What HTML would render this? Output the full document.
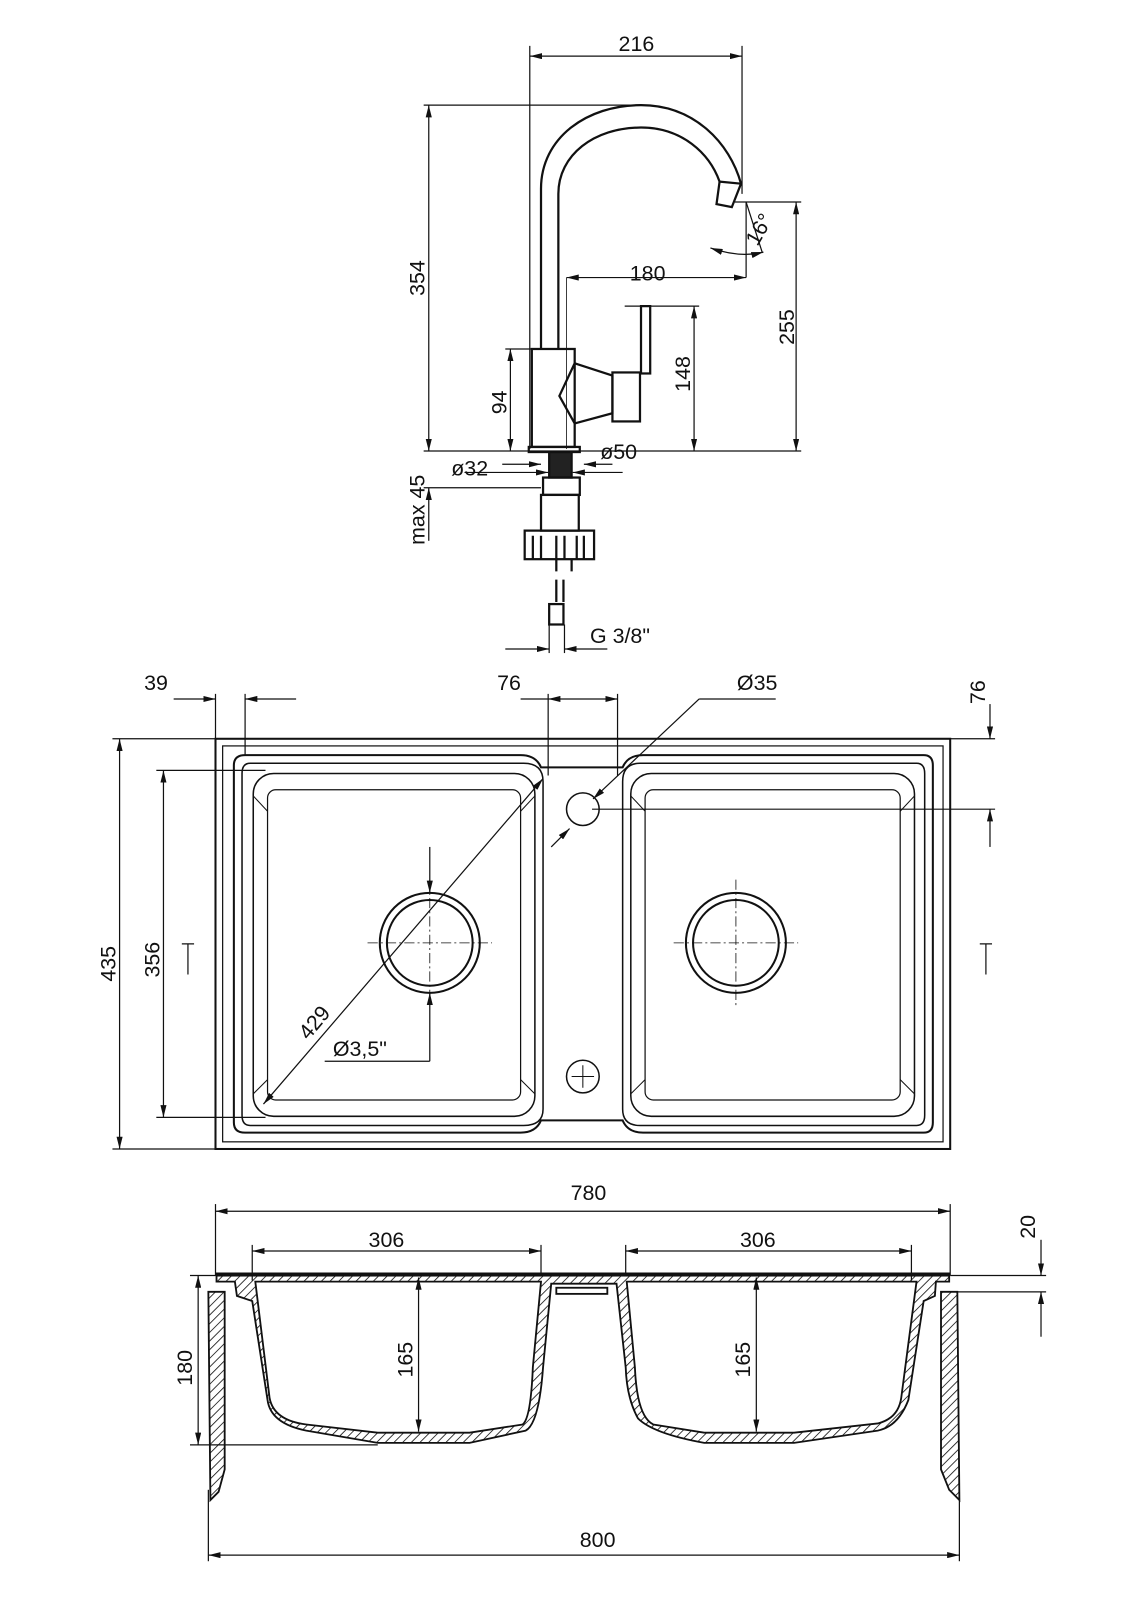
<!DOCTYPE html>
<html><head><meta charset="utf-8"><style>
html,body{margin:0;padding:0;background:#fff}
svg{display:block}
text{font-family:"Liberation Sans",sans-serif;font-size:21px;fill:#111}
</style></head><body>
<svg width="1131" height="1600" viewBox="0 0 1108 1568" xmlns="http://www.w3.org/2000/svg">
<defs>
<marker id="a" viewBox="0 0 12 6" refX="12" refY="3" markerWidth="12" markerHeight="6" orient="auto-start-reverse" markerUnits="userSpaceOnUse"><path d="M0,0L12,3L0,6z" fill="#111"/></marker>
<pattern id="h" width="6" height="6" patternUnits="userSpaceOnUse" patternTransform="rotate(45)"><rect width="6" height="6" fill="#fff"/><line x1="0" y1="0" x2="0" y2="6" stroke="#111" stroke-width="1.6"/></pattern>
</defs>
<!-- faucet body -->
<g stroke="#111" fill="none" stroke-width="2.2">
<path d="M530,342 V185 C530,135 575,103 628,103 C680,103 715,140 726,180"/>
<path d="M547,342 V190 C547,152 582,125 628,125 C668,125 695,150 705,178"/>
<path d="M705,178 L726,180 L717,203 L702,200 Z"/>
<rect x="521" y="342" width="42" height="96"/>
<path d="M563,356 L548,388 L563,415 M563,356 L600,368 V405 L563,415"/>
<rect x="600" y="365" width="27" height="48"/>
<rect x="628" y="300" width="9" height="66"/>
<rect x="518" y="438" width="50" height="5"/>
<rect x="538" y="443" width="22" height="25" fill="#222"/>
<rect x="532" y="468" width="36" height="17"/>
<rect x="530" y="485" width="37" height="35"/>
<rect x="514" y="520" width="68" height="28"/>
<path d="M522,548 V525 M530,548 V525 M545,548 V525 M553,548 V525 M565,548 V525 M572,548 V525"/>
<path d="M545,548 V560 M560,548 V560 M545,568 V590 M552,568 V590"/>
<rect x="538" y="592" width="14" height="20"/>
</g>
<g stroke="#111" fill="none" stroke-width="1.2">
<line x1="519" y1="45" x2="519" y2="440"/>
<line x1="727" y1="45" x2="727" y2="190"/>
<line x1="519" y1="55" x2="727" y2="55" marker-start="url(#a)" marker-end="url(#a)"/>
<line x1="415" y1="103" x2="630" y2="103"/>
<line x1="420" y1="103" x2="420" y2="442" marker-start="url(#a)" marker-end="url(#a)"/>
<line x1="415" y1="442" x2="785" y2="442"/>
<line x1="720" y1="198" x2="785" y2="198"/>
<line x1="780" y1="198" x2="780" y2="442" marker-start="url(#a)" marker-end="url(#a)"/>
<line x1="612" y1="300" x2="685" y2="300"/>
<line x1="680" y1="300" x2="680" y2="442" marker-start="url(#a)" marker-end="url(#a)"/>
<line x1="495" y1="342" x2="521" y2="342"/>
<line x1="500" y1="342" x2="500" y2="442" marker-start="url(#a)" marker-end="url(#a)"/>
<line x1="555" y1="272" x2="555" y2="440" stroke-width="0.8"/>
<line x1="555" y1="272" x2="731" y2="272" marker-start="url(#a)" marker-end="url(#a)"/>
<line x1="731" y1="198" x2="731" y2="272"/>
<line x1="731" y1="198" x2="747" y2="248"/>
<path d="M696,243 Q725,253 748,247" marker-start="url(#a)" marker-end="url(#a)"/>
<line x1="415" y1="478" x2="530" y2="478"/>
<line x1="420" y1="478" x2="420" y2="530" marker-start="url(#a)"/>
<line x1="492" y1="455" x2="530" y2="455" marker-end="url(#a)"/>
<line x1="600" y1="455" x2="572" y2="455" marker-end="url(#a)"/>
<line x1="455" y1="463" x2="537" y2="463" marker-end="url(#a)"/>
<line x1="610" y1="463" x2="561" y2="463" marker-end="url(#a)"/>
<line x1="495" y1="636" x2="538" y2="636" marker-end="url(#a)"/>
<line x1="595" y1="636" x2="553" y2="636" marker-end="url(#a)"/>
<line x1="538" y1="612" x2="538" y2="640"/><line x1="553" y1="612" x2="553" y2="640"/>
</g>
<text x="606" y="50">216</text>
<text x="617" y="275">180</text>
<text transform="translate(416,290) rotate(-90)">354</text>
<text transform="translate(778,338) rotate(-90)">255</text>
<text transform="translate(676,384) rotate(-90)">148</text>
<text transform="translate(496,406) rotate(-90)">94</text>
<text transform="translate(416,534) rotate(-90)">max 45</text>
<text x="442" y="466">ø32</text>
<text x="588" y="450">ø50</text>
<text x="578" y="630">G 3/8"</text>
<text transform="translate(742,242) rotate(-60)">16°</text>

<!-- TOP VIEW -->
<g stroke="#111" fill="none" stroke-width="2">
<rect x="211" y="724" width="720" height="402"/>
<rect x="218" y="731" width="706" height="388" stroke-width="1.2"/>
<path d="M240,740 H510 Q525,740 530,752 H610 Q615,740 630,740 H905 Q914,740 914,750 V1100 Q914,1110 905,1110 H630 Q615,1110 610,1098 H530 Q525,1110 510,1110 H240 Q229,1110 229,1100 V750 Q229,740 240,740 Z"/>
<path d="M245,748 H513 Q532,748 532,766 V1087 Q532,1103 513,1103 H245 Q237,1103 237,1093 V758 Q237,748 245,748 Z" stroke-width="1.5"/>
<rect x="248" y="758" width="276" height="336" rx="20" stroke-width="1.5"/>
<rect x="262" y="774" width="248" height="304" rx="8" stroke-width="1.2"/>
<line x1="248" y1="780" x2="262" y2="795" stroke-width="1"/><line x1="524" y1="780" x2="510" y2="795" stroke-width="1"/>
<line x1="248" y1="1072" x2="262" y2="1058" stroke-width="1"/><line x1="524" y1="1072" x2="510" y2="1058" stroke-width="1"/>
<path d="M627,748 H898 Q906,748 906,758 V1093 Q906,1103 898,1103 H627 Q610,1103 610,1087 V766 Q610,748 627,748 Z" stroke-width="1.5"/>
<rect x="618" y="758" width="278" height="336" rx="20" stroke-width="1.5"/>
<rect x="632" y="774" width="250" height="304" rx="8" stroke-width="1.2"/>
<line x1="618" y1="780" x2="632" y2="795" stroke-width="1"/><line x1="896" y1="780" x2="882" y2="795" stroke-width="1"/>
<line x1="618" y1="1072" x2="632" y2="1058" stroke-width="1"/><line x1="896" y1="1072" x2="882" y2="1058" stroke-width="1"/>
<circle cx="421" cy="924" r="49"/><circle cx="421" cy="924" r="42"/>
<circle cx="721" cy="924" r="49"/><circle cx="721" cy="924" r="42"/>
<circle cx="571" cy="793" r="16" stroke-width="1.5"/>
<circle cx="571" cy="1055" r="16" stroke-width="1.5"/>
<path d="M560,1055 H582 M571,1044 V1066" stroke-width="1"/>
</g>
<g stroke="#111" fill="none" stroke-width="1.2">
<line x1="211" y1="680" x2="211" y2="724"/><line x1="240" y1="680" x2="240" y2="740"/>
<line x1="170" y1="685" x2="211" y2="685" marker-end="url(#a)"/><line x1="290" y1="685" x2="240" y2="685" marker-end="url(#a)"/>
<line x1="537" y1="680" x2="537" y2="760"/><line x1="605" y1="680" x2="605" y2="760"/>
<line x1="537" y1="685" x2="605" y2="685" marker-start="url(#a)" marker-end="url(#a)"/>
<line x1="537" y1="685" x2="510" y2="685"/>
<line x1="760" y1="685" x2="685" y2="685"/><line x1="685" y1="685" x2="581" y2="783" marker-end="url(#a)"/>
<line x1="540" y1="830" x2="558" y2="812" marker-end="url(#a)"/>
<line x1="930" y1="724" x2="975" y2="724"/><line x1="580" y1="793" x2="975" y2="793"/>
<line x1="970" y1="690" x2="970" y2="724" marker-end="url(#a)"/>
<line x1="970" y1="830" x2="970" y2="793" marker-end="url(#a)"/>
<line x1="110" y1="724" x2="211" y2="724"/><line x1="110" y1="1126" x2="211" y2="1126"/>
<line x1="117" y1="724" x2="117" y2="1126" marker-start="url(#a)" marker-end="url(#a)"/>
<line x1="153" y1="755" x2="260" y2="755"/><line x1="153" y1="1095" x2="260" y2="1095"/>
<line x1="160" y1="755" x2="160" y2="1095" marker-start="url(#a)" marker-end="url(#a)"/>
<line x1="258" y1="1082" x2="532" y2="763" marker-start="url(#a)" marker-end="url(#a)"/>
<line x1="421" y1="830" x2="421" y2="875" marker-end="url(#a)"/>
<line x1="421" y1="1040" x2="421" y2="973" marker-end="url(#a)"/>
<line x1="318" y1="1040" x2="421" y2="1040"/>
<path d="M178,925 H190 M184,925 V955 M972,925 H960 M966,925 V955"/>
<line x1="360" y1="924" x2="482" y2="924" stroke-dasharray="10 3 2 3" stroke-width="0.8"/>
<line x1="421" y1="862" x2="421" y2="985" stroke-dasharray="10 3 2 3" stroke-width="0.8"/>
<line x1="660" y1="924" x2="782" y2="924" stroke-dasharray="10 3 2 3" stroke-width="0.8"/>
<line x1="721" y1="862" x2="721" y2="985" stroke-dasharray="10 3 2 3" stroke-width="0.8"/>
</g>
<text x="141" y="676">39</text>
<text x="487" y="676">76</text>
<text x="722" y="676">Ø35</text>
<text transform="translate(965,690) rotate(-90)">76</text>
<text transform="translate(113,962) rotate(-90)">435</text>
<text transform="translate(156,958) rotate(-90)">356</text>
<text transform="translate(302,1020) rotate(-50)">429</text>
<text x="326" y="1035">Ø3,5"</text>

<!-- SECTION VIEW -->
<g stroke="#111" stroke-width="1.8" fill="url(#h)">
<path d="M212,1248 H930 V1256 H917 L916,1270 L905,1275 L890,1372 Q880,1398 860,1402 L778,1414 H690 Q640,1405 625,1390 Q614,1370 613,1340 L604,1258 H540 L532,1340 Q528,1395 515,1402 L460,1414 H370 L300,1402 Q265,1395 262,1372 L247,1275 L232,1270 L230,1256 H212 Z"/>
<path d="M250,1256 L264,1370 Q268,1392 300,1396 L370,1404 H460 L512,1396 Q520,1390 522,1340 L530,1256 Z" fill="#fff"/>
<path d="M614,1256 L622,1340 Q624,1388 640,1396 L690,1404 H778 L860,1395 Q880,1390 883,1370 L898,1256 Z" fill="#fff"/>
<rect x="545" y="1262" width="50" height="6" fill="#fff"/>
<path d="M204,1266 H220 V1440 L214,1462 L206,1470 Z"/>
<path d="M922,1266 H938 L940,1470 L930,1460 L922,1440 Z"/>
</g>
<rect x="212" y="1248" width="718" height="3" fill="#111"/>
<g stroke="#111" fill="none" stroke-width="1.2">
<line x1="211" y1="1180" x2="211" y2="1250"/><line x1="931" y1="1180" x2="931" y2="1250"/>
<line x1="211" y1="1187" x2="931" y2="1187" marker-start="url(#a)" marker-end="url(#a)"/>
<line x1="247" y1="1220" x2="247" y2="1255"/><line x1="530" y1="1220" x2="530" y2="1250"/>
<line x1="247" y1="1226" x2="530" y2="1226" marker-start="url(#a)" marker-end="url(#a)"/>
<line x1="613" y1="1220" x2="613" y2="1250"/><line x1="893" y1="1220" x2="893" y2="1255"/>
<line x1="613" y1="1226" x2="893" y2="1226" marker-start="url(#a)" marker-end="url(#a)"/>
<line x1="410" y1="1252" x2="410" y2="1403" marker-start="url(#a)" marker-end="url(#a)"/>
<line x1="741" y1="1252" x2="741" y2="1403" marker-start="url(#a)" marker-end="url(#a)"/>
<line x1="186" y1="1250" x2="220" y2="1250"/><line x1="186" y1="1416" x2="370" y2="1416"/>
<line x1="194" y1="1250" x2="194" y2="1416" marker-start="url(#a)" marker-end="url(#a)"/>
<line x1="931" y1="1250" x2="1025" y2="1250"/><line x1="931" y1="1266" x2="1025" y2="1266"/>
<line x1="1020" y1="1215" x2="1020" y2="1250" marker-end="url(#a)"/>
<line x1="1020" y1="1310" x2="1020" y2="1266" marker-end="url(#a)"/>
<line x1="204" y1="1460" x2="204" y2="1530"/><line x1="940" y1="1460" x2="940" y2="1530"/>
<line x1="204" y1="1524" x2="940" y2="1524" marker-start="url(#a)" marker-end="url(#a)"/>
</g>
<text x="559" y="1176">780</text>
<text x="361" y="1222">306</text>
<text x="725" y="1222">306</text>
<text transform="translate(404,1350) rotate(-90)">165</text>
<text transform="translate(735,1350) rotate(-90)">165</text>
<text transform="translate(188,1358) rotate(-90)">180</text>
<text transform="translate(1014,1214) rotate(-90)">20</text>
<text x="568" y="1516">800</text>
</svg>
</body></html>
